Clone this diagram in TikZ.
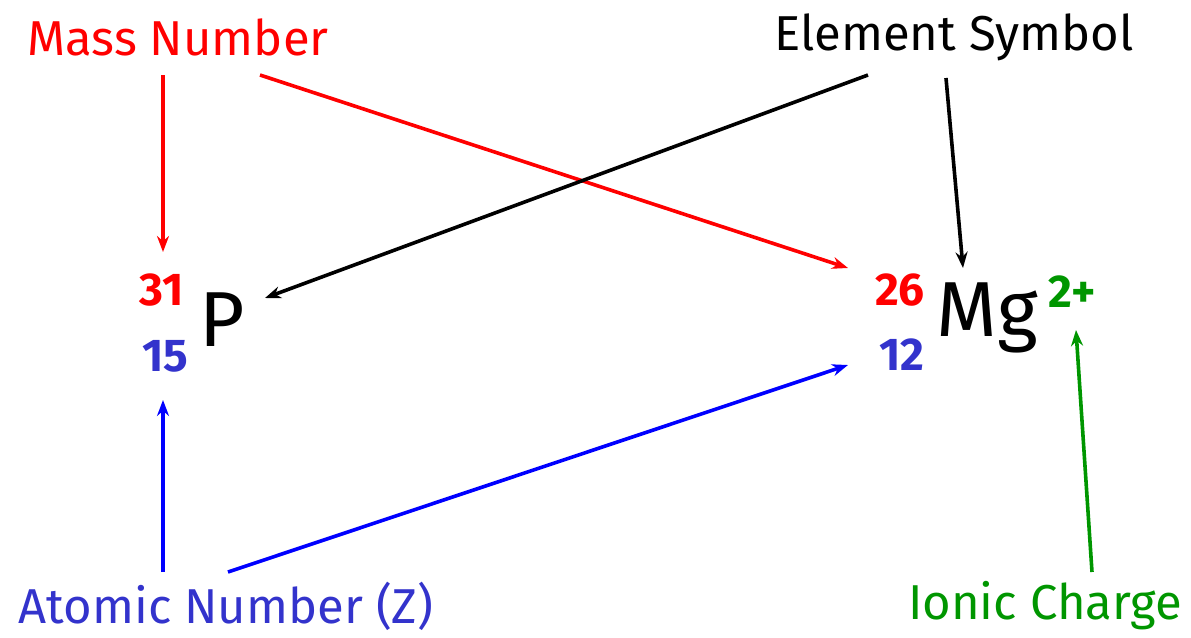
\documentclass[tikz,border=0pt]{standalone}
\usepackage{fontspec}
\setmainfont{Fira Sans}
\usetikzlibrary{arrows.meta}
\definecolor{massred}{RGB}{255,0,0}
\definecolor{znumblue}{RGB}{51,51,204}
\definecolor{zlineblue}{RGB}{0,0,255}
\definecolor{iongreen}{RGB}{0,150,0}
\tikzset{
  captext/.style={font=\fontsize{24.5}{28}\selectfont,inner sep=0pt},
  numtext/.style={font=\bfseries\fontsize{23}{27}\selectfont,inner sep=0pt},
  symtext/.style={font=\fontsize{39}{43}\selectfont,inner sep=0pt},
  link/.style={-{Stealth[length=8pt,width=6pt]},line width=1.8pt}
}
\begin{document}
\begin{tikzpicture}[x=0.5pt,y=-0.5pt]
  \useasboundingbox (0,0) rectangle (1191,638);
  % captions
  \node[captext,text=massred] (mass) at (178,37) {Mass Number};
  \node[captext] (elem) at (954,37) {Element Symbol};
  \node[captext,text=znumblue] (atomic) at (226,606) {Atomic Number (Z)};
  \node[captext,text=iongreen] (ionic) at (1045,606) {Ionic Charge};
  % phosphorus
  \node[numtext,text=massred] (p31) at (162,290) {31};
  \node[numtext,text=znumblue] (p15) at (165,356) {15};
  \node[symtext] (psym) at (222,320) {P};
  % magnesium
  \node[numtext,text=massred] (mg26) at (900,290) {26};
  \node[numtext,text=znumblue] (mg12) at (902,355) {12};
  \node[symtext] (mgsym) at (987,318) {Mg};
  \node[numtext,text=iongreen] (mgion) at (1072,292) {2+};
  % arrow ends
  \coordinate (massA) at (163,75);
  \coordinate (massB) at (260,75);
  \coordinate (elemA) at (868,75);
  \coordinate (elemB) at (946,78);
  \coordinate (atomA) at (163,572);
  \coordinate (atomB) at (228,572);
  \coordinate (ionA) at (1092,572);
  \coordinate (p31tip) at (163,252);
  \coordinate (mg26tip) at (848,268);
  \coordinate (psymtip) at (265,298);
  \coordinate (mgsymtip) at (963,268);
  \coordinate (p15tip) at (163,400);
  \coordinate (mg12tip) at (848,365);
  \coordinate (iontip) at (1076,330);
  % connectors
  \draw[link,massred] (massA) -- (p31tip);
  \draw[link,massred] (massB) -- (mg26tip);
  \draw[link] (elemA) -- (psymtip);
  \draw[link] (elemB) -- (mgsymtip);
  \draw[link,zlineblue] (atomA) -- (p15tip);
  \draw[link,zlineblue] (atomB) -- (mg12tip);
  \draw[link,iongreen] (ionA) -- (iontip);
\end{tikzpicture}
\end{document}
